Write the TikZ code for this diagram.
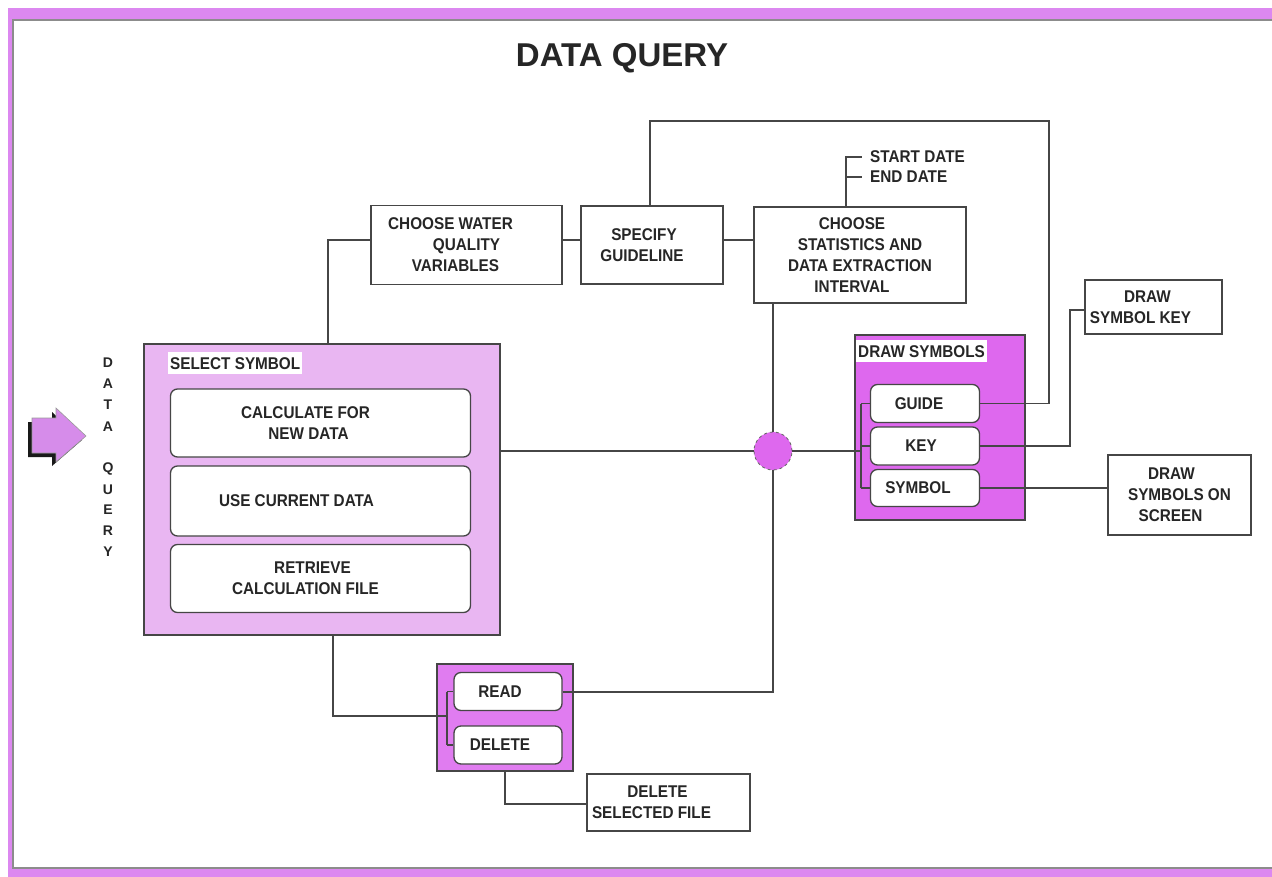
\documentclass[tikz,border=0pt]{standalone}
\usepackage{fontspec}
\newfontfamily\boxfont{Liberation Sans}[FakeStretch=0.9]
\newfontfamily\titlefont{Liberation Sans}
\usetikzlibrary{calc}
\newcommand\tsh[1]{\hspace*{#1pt}}
\definecolor{band}{RGB}{220,136,240}
\definecolor{lightfill}{RGB}{233,182,242}
\definecolor{magfill}{RGB}{222,104,238}
\definecolor{readfill}{RGB}{224,124,240}
\definecolor{arrowfill}{RGB}{214,140,234}
\definecolor{linec}{RGB}{70,70,70}
\tikzset{
  txt/.style={font=\boxfont\bfseries\fontsize{17}{21}\selectfont, text=black!85},
  plainbox/.style={txt, draw=linec, line width=1.3pt, fill=white, align=center, inner sep=0pt},
  roundbox/.style={plainbox, rounded corners=7pt},
  container/.style={draw=linec, line width=1.2pt, inner sep=0pt},
  wire/.style={draw=linec, line width=1.3pt},
  label/.style={txt, fill=white, inner xsep=2pt, inner ysep=0pt, minimum height=22pt, anchor=north west},
  vletter/.style={font=\titlefont\bfseries\fontsize{14}{14}\selectfont, text=black!85}
}
\begin{document}
\begin{tikzpicture}[x=1pt,y=-1pt]
\useasboundingbox (0,0) rectangle (1272,877);
% frame
\fill[white] (0,0) rectangle (1272,877);
\fill[band] (8,8) rectangle (1290,890);
\fill[white] (13,20) rectangle (1290,868);
\draw[black!45, line width=1.5pt] (1290,20) -- (13,20) -- (13,868) -- (1290,868);
% title
\node[font=\titlefont\bfseries\fontsize{33}{33}\selectfont, text=black!85] (title) at (622,58) {DATA QUERY};
% entry arrow
\fill[black!90] (28,422) -- (52,422) -- (52,412) -- (82,440) -- (52,466) -- (52,457) -- (28,457) -- cycle;
\filldraw[fill=arrowfill, draw=black!40, line width=0.6pt] (32,418) -- (56,418) -- (56,408) -- (86,436) -- (56,462) -- (56,453) -- (32,453) -- cycle;
% vertical text
\foreach \l/\y [count=\i] in {D/363,A/384,T/405,A/427,Q/469,U/490,E/510,R/531,Y/552}
  \node[vletter] (vq\i) at (108,\y) {\l};
% containers
\node[container, fill=lightfill, minimum width=356pt, minimum height=291pt] (select) at (322,489.5) {};
\node[label] (sellab) at (168,352) {SELECT SYMBOL};
\node[roundbox, minimum width=300pt, minimum height=68pt] (calc) at (320.5,423) {CALCULATE FOR\tsh{30}\\NEW DATA\tsh{24}};
\node[roundbox, minimum width=300pt, minimum height=70pt] (use) at (320.5,501) {USE CURRENT DATA\tsh{48}};
\node[roundbox, minimum width=300pt, minimum height=68pt] (retr) at (320.5,578.5) {RETRIEVE\tsh{16}\\CALCULATION FILE\tsh{30}};

\node[container, fill=magfill, minimum width=170pt, minimum height=185pt] (drawsym) at (940,427.5) {};
\node[label] (dslab) at (856,340) {DRAW SYMBOLS};
\node[roundbox, minimum width=109pt, minimum height=38pt] (guide) at (925,403.5) {GUIDE\tsh{12}};
\node[roundbox, minimum width=109pt, minimum height=38pt] (key) at (925,446) {KEY\tsh{8}};
\node[roundbox, minimum width=109pt, minimum height=37pt] (symbol) at (925,488) {SYMBOL\tsh{14}};

\node[container, fill=readfill, minimum width=136pt, minimum height=107pt] (readc) at (505,717.5) {};
\node[roundbox, minimum width=108pt, minimum height=38pt] (read) at (508,691.5) {READ\tsh{16}};
\node[roundbox, minimum width=108pt, minimum height=38pt] (delete) at (508,745) {DELETE\tsh{16}};

% plain boxes
\node[plainbox, minimum width=191pt, minimum height=79pt] (water) at (466.5,245) {CHOOSE WATER\tsh{32}\\QUALITY\tsh{18}\\VARIABLES\tsh{22}};
\node[plainbox, minimum width=142pt, minimum height=78pt] (spec) at (652,245) {SPECIFY\tsh{16}\\GUIDELINE\tsh{20}};
\node[plainbox, minimum width=212pt, minimum height=96pt] (stats) at (860,255) {CHOOSE\tsh{16}\\STATISTICS AND\tsh{22}\\DATA EXTRACTION\tsh{34}\\INTERVAL\tsh{16}};
\node[plainbox, minimum width=137pt, minimum height=54pt] (drawkey) at (1153.5,307) {DRAW\tsh{12}\\SYMBOL KEY\tsh{26}};
\node[plainbox, minimum width=143pt, minimum height=80pt] (screen) at (1179.5,495) {DRAW\tsh{16}\\SYMBOLS ON\tsh{28}\\SCREEN\tsh{18}};
\node[plainbox, minimum width=163pt, minimum height=57pt] (delfile) at (668.5,802.5) {DELETE\tsh{22}\\SELECTED FILE\tsh{34}};
\node[txt, anchor=west, inner sep=0pt] (sdate) at (870,157) {START DATE};
\node[txt, anchor=west, inner sep=0pt] (edate) at (870,177) {END DATE};

% hub circle
\node[circle, draw=black!60, dashed, line width=0.8pt, fill=magfill, minimum size=38pt, inner sep=0pt] (hub) at (773,451) {};

% connectors
\coordinate (wj) at (328,240);
\draw[wire] (water.west |- wj) -- (wj) -- (wj |- select.north);
\draw[wire] (water.east |- wj) -- (spec.west |- wj);
\draw[wire] (spec.east |- wj) -- (stats.west |- wj);
\coordinate (tl) at (650,121);
\coordinate (tr) at (1049,121);
\draw[wire] (tl |- spec.north) -- (tl) -- (tr) -- (tr |- guide.east) -- (guide.east);
\coordinate (sb) at (846,157);
\draw[wire] (sb |- stats.north) -- (sb) -- ([xshift=-8pt]sdate.west);
\draw[wire] (sb |- edate.west) -- ([xshift=-8pt]edate.west);
\draw[wire] (hub.north |- stats.south) -- (hub.north);
\draw[wire] (select.east |- hub) -- (hub.west);
\coordinate (db) at (861,451);
\draw[wire] (hub.east) -- (db);
\draw[wire] (db |- guide.west) -- (db |- symbol.west);
\draw[wire] (db |- guide.west) -- (guide.west);
\draw[wire] (db |- key.west) -- (key.west);
\draw[wire] (db |- symbol.west) -- (symbol.west);
\coordinate (kj) at (1070,310);
\draw[wire] (key.east) -- (kj |- key.east) -- (kj) -- (drawkey.west |- kj);
\draw[wire] (symbol.east) -- (screen.west |- symbol.east);
\coordinate (rj) at (773,692);
\draw[wire] (hub.south) -- (rj) -- (read.east |- rj);
\coordinate (sj) at (333,716);
\coordinate (rb) at (447,716);
\draw[wire] (sj |- select.south) -- (sj) -- (rb);
\draw[wire] (rb |- read.west) -- (rb |- delete.west);
\draw[wire] (rb |- read.west) -- (read.west);
\draw[wire] (rb |- delete.west) -- (delete.west);
\coordinate (dj) at (505,804);
\draw[wire] (dj |- readc.south) -- (dj) -- (delfile.west |- dj);
\end{tikzpicture}
\end{document}
